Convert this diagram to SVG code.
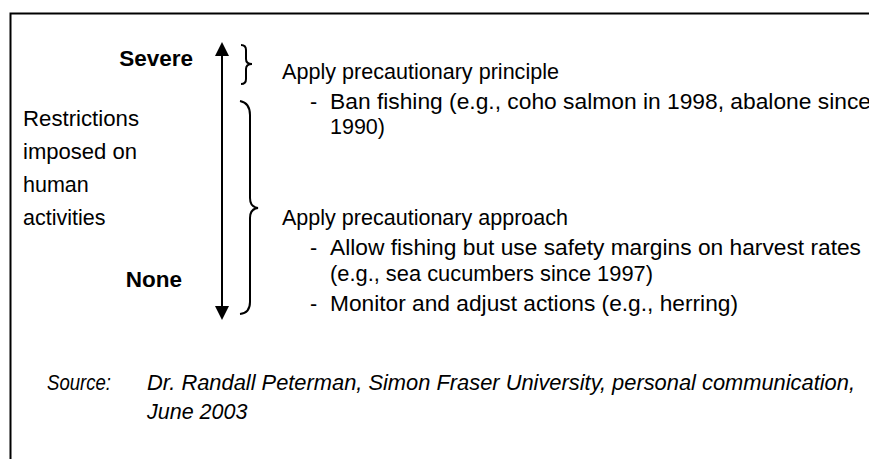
<svg xmlns="http://www.w3.org/2000/svg" width="869" height="459" viewBox="0 0 869 459">
<style>
text{font-family:"Liberation Sans",Arial,Helvetica,sans-serif;font-size:21.5px;fill:#000}
.b{font-weight:bold;font-size:22.5px}
.i{font-style:italic}
.ln{fill:none;stroke:#000;stroke-width:2}
</style>
<rect width="869" height="459" fill="#fff"/>
<path class="ln" d="M10.5,459 V13.5 H869"/>
<g id="axis-label">
<text x="23" y="126" textLength="116" lengthAdjust="spacingAndGlyphs">Restrictions</text>
<text x="23" y="159" textLength="114" lengthAdjust="spacingAndGlyphs">imposed on</text>
<text x="23" y="192">human</text>
<text x="23" y="225">activities</text>
</g>
<g id="severe"><text class="b" x="193" y="66" text-anchor="end">Severe</text></g>
<g id="none"><text class="b" x="182" y="287" text-anchor="end">None</text></g>
<g id="connectors">
<line class="ln" x1="222" y1="54" x2="222" y2="308"/>
<polygon points="222,42 215,56 229,56"/>
<polygon points="222,320 215,306 229,306"/>
<path class="ln" stroke-width="1.6" d="M241,45 Q246,45 246,50 V59 Q246,64 252,64 Q246,64 246,69 V79 Q246,84 241,84"/>
<path class="ln" stroke-width="1.6" d="M240,101 Q250,103 250,115 V198 Q250,207 258,208 Q250,209 250,218 V302 Q250,313 240,314"/>
</g>
<g id="principle">
<text x="282" y="79" textLength="277" lengthAdjust="spacingAndGlyphs">Apply precautionary principle</text>
<text x="310" y="109">-</text>
<text x="330" y="109" textLength="541" lengthAdjust="spacingAndGlyphs">Ban fishing (e.g., coho salmon in 1998, abalone since</text>
<text x="330" y="134">1990)</text>
</g>
<g id="approach">
<text x="282" y="225" textLength="286" lengthAdjust="spacingAndGlyphs">Apply precautionary approach</text>
<text x="310" y="255">-</text>
<text x="330" y="255" textLength="531" lengthAdjust="spacingAndGlyphs">Allow fishing but use safety margins on harvest rates</text>
<text x="330" y="281" textLength="323" lengthAdjust="spacingAndGlyphs">(e.g., sea cucumbers since 1997)</text>
<text x="310" y="311">-</text>
<text x="330" y="311" textLength="408" lengthAdjust="spacingAndGlyphs">Monitor and adjust actions (e.g., herring)</text>
</g>
<g id="source">
<text class="i" x="47" y="390" textLength="64" lengthAdjust="spacingAndGlyphs">Source:</text>
<text class="i" x="147" y="390" textLength="708" lengthAdjust="spacingAndGlyphs">Dr. Randall Peterman, Simon Fraser University, personal communication,</text>
<text class="i" x="147" y="419">June 2003</text>
</g>
</svg>
